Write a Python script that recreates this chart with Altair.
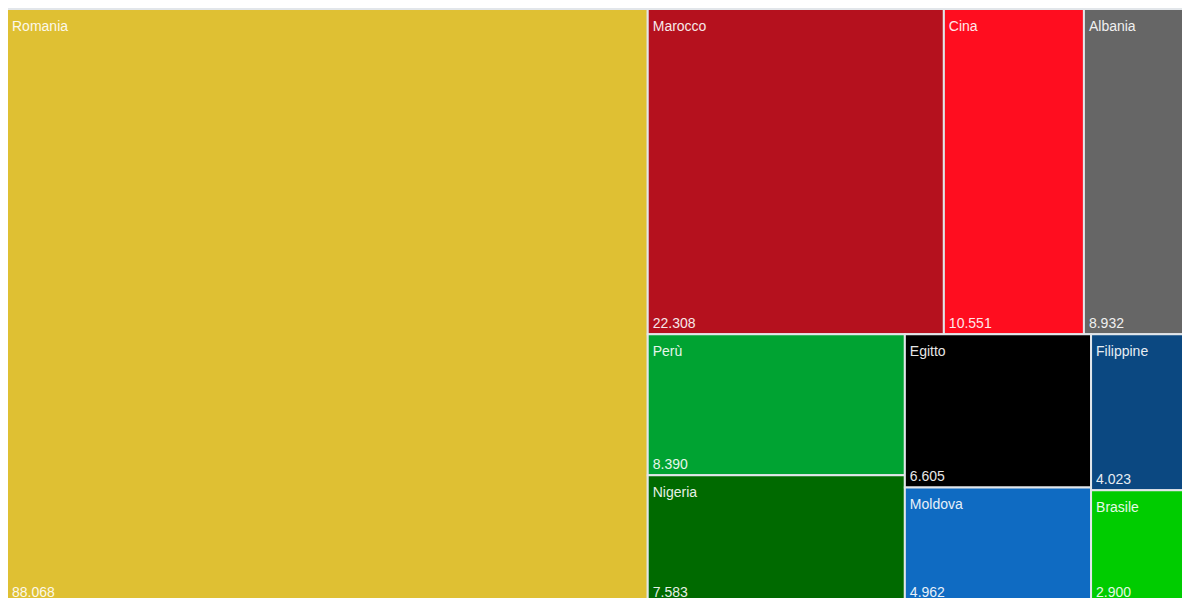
import altair as alt
import pandas as pd

names = ["Romania", "Marocco", "Cina", "Albania", "Perù", "Nigeria", "Egitto", "Moldova", "Filippine", "Brasile"]
values = [88068, 22308, 10551, 8932, 8390, 7583, 6605, 4962, 4023, 2900]
colors = ["#DFC033", "#B5111E", "#FF0D1F", "#666666", "#00A332", "#006A00", "#000000", "#0F6BC2", "#0B4881", "#00CC00"]

# treemap extent (larger than the visible plot, as in the cropped reference)
TX0, TY0 = -1.0, 1.0
TW, TH = 1195.5, 593.5
PW, PH = 1174, 590


def squarify(vals, x0, y0, x1, y1, ratio=(1 + 5 ** 0.5) / 2):
    n = len(vals)
    out = [None] * n
    value = float(sum(vals))
    i0 = i1 = 0
    while i0 < n:
        dx, dy = x1 - x0, y1 - y0
        sumv = vals[i1]
        i1 += 1
        minv = maxv = sumv
        alpha = max(dy / dx, dx / dy) / (value * ratio)
        beta = sumv * sumv * alpha
        minr = max(maxv / beta, beta / minv)
        while i1 < n:
            nv = vals[i1]
            sumv += nv
            minv = min(minv, nv)
            maxv = max(maxv, nv)
            beta = sumv * sumv * alpha
            newr = max(maxv / beta, beta / minv)
            if newr > minr:
                sumv -= nv
                break
            minr = newr
            i1 += 1
        if dx < dy:
            yb = y0 + dy * sumv / value
            xx = x0
            for k in range(i0, i1):
                w = (x1 - x0) * vals[k] / sumv
                out[k] = (xx, y0, xx + w, yb)
                xx += w
            y0 = yb
        else:
            xb = x0 + dx * sumv / value
            yy = y0
            for k in range(i0, i1):
                h = (y1 - y0) * vals[k] / sumv
                out[k] = (x0, yy, xb, yy + h)
                yy += h
            x0 = xb
        value -= sumv
        i0 = i1
    return out


rects = squarify(values, TX0, TY0, TX0 + TW, TY0 + TH)
df = pd.DataFrame({
    "name": names,
    "value": values,
    "label": [f"{v:,}".replace(",", ".") for v in values],
    "x0": [r[0] for r in rects],
    "y0": [r[1] for r in rects],
    "x1": [r[2] for r in rects],
    "y1": [r[3] for r in rects],
})
df["tx"] = df["x0"] + 5
df["ty_name"] = df["y0"] + 21.5
df["ty_val"] = df["y1"] - 6

xs = alt.Scale(domain=[0, PW])
ys = alt.Scale(domain=[0, PH], reverse=True)

base = alt.Chart(df)

rect = base.mark_rect(clip=True, stroke="#e2e6ea", strokeWidth=2).encode(
    x=alt.X("x0:Q", scale=xs, axis=None),
    x2="x1:Q",
    y=alt.Y("y0:Q", scale=ys, axis=None),
    y2="y1:Q",
    color=alt.Color("name:N", scale=alt.Scale(domain=names, range=colors), legend=None),
)

txt_name = base.mark_text(clip=True, align="left", baseline="alphabetic", font="Liberation Sans",
                          fontSize=14, color="#ffffff", opacity=0.9).encode(
    x=alt.X("tx:Q", scale=xs, axis=None),
    y=alt.Y("ty_name:Q", scale=ys, axis=None),
    text="name:N",
)

txt_val = base.mark_text(clip=True, align="left", baseline="alphabetic", font="Liberation Sans",
                         fontSize=14, color="#ffffff", opacity=0.9).encode(
    x=alt.X("tx:Q", scale=xs, axis=None),
    y=alt.Y("ty_val:Q", scale=ys, axis=None),
    text="label:N",
)

chart = alt.layer(rect, txt_name, txt_val).properties(
    width=PW, height=PH,
    padding={"left": 0, "top": 0, "right": 0, "bottom": 0},
    autosize=alt.AutoSizeParams(type="none"),
).configure_view(strokeWidth=0)

chart.save("out.html", embed_options={"renderer": "svg", "actions": False})
